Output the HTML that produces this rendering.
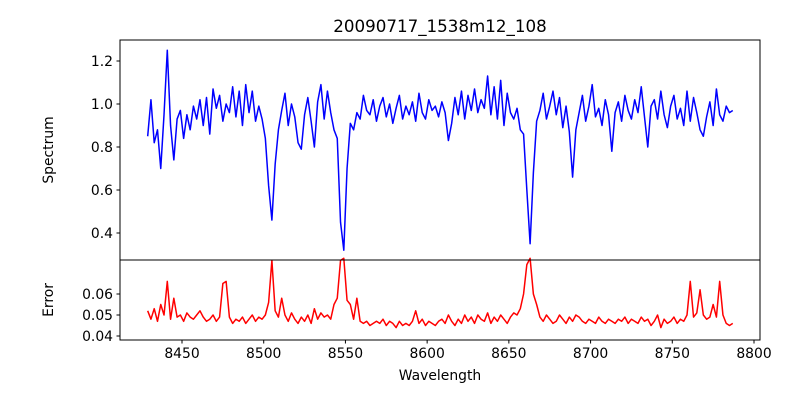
<!DOCTYPE html>
<html><head><meta charset="utf-8"><style>
body{margin:0;background:#fff;}
svg{display:block;font-family:"DejaVu Sans","Liberation Sans",sans-serif;}
</style></head><body>
<svg id="chart" width="800" height="400" viewBox="0 0 800 400" xmlns="http://www.w3.org/2000/svg">
<rect width="800" height="400" fill="#fff"/>
<text x="440" y="32" text-anchor="middle" font-size="16.7">20090717_1538m12_108</text>
<text transform="translate(53,150) rotate(-90)" text-anchor="middle" font-size="13.9">Spectrum</text>
<text transform="translate(53,300) rotate(-90)" text-anchor="middle" font-size="13.9">Error</text>
<text x="440" y="380" text-anchor="middle" font-size="13.9">Wavelength</text>
<g id="g"></g>
</svg>
<script>
const wlStart = 8429;
const wlStep = 2;
const spectrum = [
0.85,1.02,0.82,0.88,0.70,0.95,1.25,0.90,0.74,0.93,
0.97,0.84,0.95,0.88,0.99,0.93,1.02,0.90,1.03,0.86,
1.07,0.98,1.04,0.92,1.00,0.96,1.08,0.94,1.06,0.90,
1.09,0.96,1.06,0.92,0.99,0.93,0.84,0.62,0.46,0.72,
0.88,0.97,1.05,0.90,1.00,0.94,0.82,0.79,0.95,1.03,
0.92,0.80,1.01,1.09,0.93,1.06,0.96,0.88,0.84,0.45,
0.32,0.70,0.91,0.88,0.96,0.93,1.04,0.97,0.95,1.02,
0.92,0.99,1.03,0.94,1.00,0.91,0.98,1.04,0.93,0.99,
0.95,1.01,0.92,1.05,0.96,0.93,1.02,0.97,0.99,0.94,
1.01,0.96,0.83,0.91,1.03,0.95,1.06,0.93,1.04,0.97,
1.07,0.96,1.02,0.98,1.13,0.95,1.08,0.93,1.11,0.90,
1.05,0.96,0.93,0.98,0.88,0.86,0.60,0.35,0.68,0.92,
0.97,1.05,0.93,0.99,1.06,0.95,1.03,0.89,0.99,0.87,
0.66,0.88,0.96,1.04,0.92,0.99,1.09,0.94,0.98,0.90,
1.02,0.95,0.78,0.96,1.01,0.92,1.04,0.97,0.93,1.02,
0.96,1.08,0.94,0.80,0.99,1.02,0.93,1.06,0.95,0.89,
0.99,1.04,0.93,0.98,0.90,1.06,0.92,1.03,0.96,0.88,
0.85,0.94,1.01,0.90,1.07,0.95,0.92,0.99,0.96,0.97];
const errors = [
0.052,0.048,0.053,0.047,0.055,0.050,0.066,0.048,0.058,0.049,
0.050,0.047,0.051,0.049,0.048,0.050,0.052,0.049,0.047,0.048,
0.050,0.047,0.049,0.065,0.066,0.049,0.046,0.048,0.047,0.049,
0.046,0.048,0.050,0.047,0.049,0.048,0.050,0.056,0.076,0.052,
0.049,0.058,0.050,0.047,0.051,0.048,0.046,0.049,0.047,0.050,
0.046,0.053,0.048,0.051,0.049,0.050,0.048,0.055,0.058,0.076,
0.077,0.057,0.055,0.048,0.058,0.047,0.046,0.047,0.045,0.046,
0.047,0.046,0.048,0.045,0.047,0.046,0.044,0.047,0.045,0.046,
0.045,0.047,0.052,0.046,0.048,0.045,0.047,0.046,0.045,0.047,
0.048,0.046,0.050,0.047,0.045,0.048,0.046,0.050,0.047,0.049,
0.046,0.050,0.048,0.047,0.051,0.046,0.049,0.047,0.050,0.048,
0.046,0.049,0.051,0.050,0.053,0.060,0.074,0.077,0.060,0.055,
0.049,0.047,0.050,0.048,0.046,0.047,0.050,0.048,0.046,0.049,
0.047,0.050,0.049,0.047,0.046,0.048,0.047,0.046,0.049,0.047,
0.046,0.048,0.047,0.046,0.048,0.047,0.049,0.046,0.048,0.047,
0.046,0.049,0.047,0.048,0.045,0.047,0.050,0.044,0.048,0.046,
0.047,0.049,0.046,0.048,0.047,0.050,0.066,0.049,0.051,0.062,
0.050,0.048,0.049,0.055,0.049,0.066,0.050,0.046,0.045,0.046];
const xTicks = [8450,8500,8550,8600,8650,8700,8750,8800];
const specTicks = [0.4,0.6,0.8,1.0,1.2];
const errTicks = [0.04,0.05,0.06];

const NS="http://www.w3.org/2000/svg";
const g=document.getElementById('g');
const X=w=>182+(w-8450)*1.6343;
const Ys=v=>104-(v-1.0)*215;
const Ye=v=>315-(v-0.05)*2100;
function mk(t,a){const e=document.createElementNS(NS,t);for(const k in a)e.setAttribute(k,a[k]);g.appendChild(e);return e;}

let d1='',d2='';
spectrum.forEach((v,i)=>{d1+=(i?'L':'M')+X(wlStart+i*wlStep).toFixed(2)+','+Ys(v).toFixed(2);});
errors.forEach((v,i)=>{d2+=(i?'L':'M')+X(wlStart+i*wlStep).toFixed(2)+','+Ye(v).toFixed(2);});
const p1=mk('path',{d:d1,fill:'none',stroke:'#0000ff','stroke-width':1.5,'stroke-linejoin':'round'});


const p2=mk('path',{d:d2,fill:'none',stroke:'#ff0000','stroke-width':1.5,'stroke-linejoin':'round'});



const f1=mk('rect',{x:120,y:40,width:640,height:220,fill:'none',stroke:'#000','stroke-width':1});


const f2=mk('rect',{x:120,y:260,width:640,height:80,fill:'none',stroke:'#000','stroke-width':1});



xTicks.forEach(t=>{const x=X(t);
 mk('line',{x1:x,x2:x,y1:340,y2:343.5,stroke:'#000'});
 const tx=mk('text',{x:x,y:358,'text-anchor':'middle','font-size':13.9});tx.textContent=t;
 
 
});
specTicks.forEach(t=>{const y=Ys(t);
 mk('line',{x1:116.5,x2:120,y1:y,y2:y,stroke:'#000'});
 const tx=mk('text',{x:113,y:y+5,'text-anchor':'end','font-size':13.9});tx.textContent=t.toFixed(1);
 
 
});
errTicks.forEach(t=>{const y=Ye(t);
 mk('line',{x1:116.5,x2:120,y1:y,y2:y,stroke:'#000'});
 const tx=mk('text',{x:113,y:y+5,'text-anchor':'end','font-size':13.9});tx.textContent=t.toFixed(2);
 
 
});
</script>
</body></html>
